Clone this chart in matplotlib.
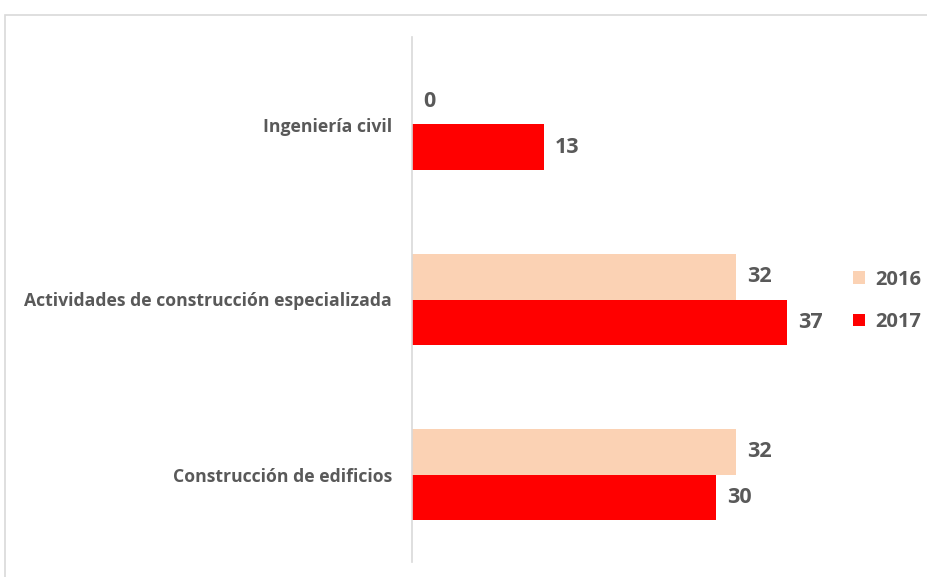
import matplotlib.pyplot as plt
import matplotlib.patches as mpatches
import numpy as np

categories = ['Construcción de edificios',
              'Actividades de construcción especializada',
              'Ingeniería civil']
values_2016 = [32, 32, 0]
values_2017 = [30, 37, 13]
series_names = ['2016', '2017']

plt.rcParams['font.family'] = ['Open Sans', 'DejaVu Sans']
text_color = '#595959'
col_2016 = '#fbd2b4'
col_2017 = '#ff0000'

fig = plt.figure(figsize=(9.28, 5.77), dpi=100)
fig.patch.set_facecolor('white')

# light frame around the chart area, like the Excel export
frame = mpatches.Rectangle((4.5 / 928, -0.1), 1.2, 1 - 14.5 / 577 + 0.1,
                           transform=fig.transFigure, fill=False,
                           edgecolor='#d9d9d9', linewidth=1.2)
fig.add_artist(frame)

ax = fig.add_axes([412 / 928, 15 / 577, 405 / 928, 525 / 577])
y = np.arange(len(categories))
h = 0.26

ax.barh(y + h / 2, values_2016, height=h, color=col_2016, label=series_names[0])
ax.barh(y - h / 2, values_2017, height=h, color=col_2017, label=series_names[1])

for yi, v in zip(y + h / 2, values_2016):
    ax.annotate(str(v), (v, yi), xytext=(8, 0), textcoords='offset points',
                ha='left', va='center', fontsize=15.5, fontweight='bold', color=text_color)
for yi, v in zip(y - h / 2, values_2017):
    ax.annotate(str(v), (v, yi), xytext=(8, 0), textcoords='offset points',
                ha='left', va='center', fontsize=15.5, fontweight='bold', color=text_color)

ax.set_xlim(0, 40)
ax.set_ylim(-0.5, 2.5)
ax.set_yticks(y)
ax.set_yticklabels(categories, fontsize=12.7, fontweight='bold', color=text_color)
ax.tick_params(axis='y', length=0, pad=14.5)
ax.set_xticks([])
for s in ['top', 'right', 'bottom']:
    ax.spines[s].set_visible(False)
ax.spines['left'].set_color('#d9d9d9')
ax.spines['left'].set_linewidth(1.2)

leg = ax.legend(loc='center left', bbox_to_anchor=(835 / 928, 1 - 301 / 577),
                bbox_transform=fig.transFigure, frameon=False,
                prop={'size': 14.5, 'weight': 'bold'}, handlelength=0.6,
                handleheight=0.6, handletextpad=0.5, labelspacing=1.1)
for t in leg.get_texts():
    t.set_color(text_color)

fig.savefig('out.png', dpi=100)
